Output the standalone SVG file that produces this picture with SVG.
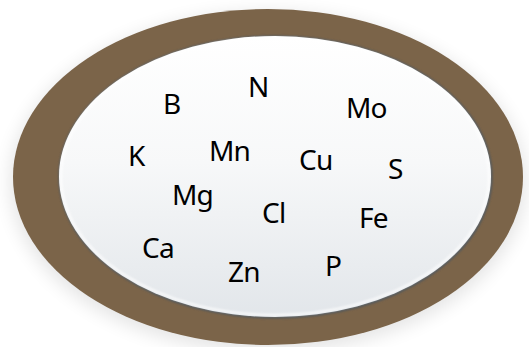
<svg xmlns="http://www.w3.org/2000/svg" width="529" height="347" viewBox="0 0 529 347">
  <defs>
    <filter id="shadow" x="-20%" y="-20%" width="140%" height="140%">
      <feGaussianBlur stdDeviation="9"/>
    </filter>
    <filter id="rim" x="-10%" y="-10%" width="120%" height="120%">
      <feGaussianBlur stdDeviation="1.2"/>
    </filter>
    <linearGradient id="innerFill" x1="0" y1="0" x2="0" y2="1">
      <stop offset="0" stop-color="#ffffff"/>
      <stop offset="0.45" stop-color="#f7f8f9"/>
      <stop offset="1" stop-color="#e2e6ea"/>
    </linearGradient>
  </defs>
  <style>
    .el { font-family: "Noto Sans", "Open Sans", sans-serif; font-size: 28px; letter-spacing: -0.8px; fill: #000000; }
  </style>
  <rect width="529" height="347" fill="#ffffff"/>
  <g id="plate">
    <ellipse cx="268" cy="182" rx="258" ry="170" fill="#000000" opacity="0.1" filter="url(#shadow)"/>
    <ellipse cx="268" cy="177" rx="255" ry="168" fill="#7b6449"/>
    <ellipse cx="275.5" cy="177" rx="217" ry="141.5" fill="#50565c" filter="url(#rim)"/>
    <ellipse cx="275" cy="176.5" rx="216" ry="140.5" fill="url(#innerFill)"/>
    <ellipse cx="275" cy="176.5" rx="214" ry="138.5" fill="none" stroke="#ffffff" stroke-width="2" opacity="0.8" filter="url(#rim)"/>
  </g>
  <g id="elements">
    <g id="n-B"><text class="el" x="163" y="114">B</text></g>
    <g id="n-N"><text class="el" x="248" y="97">N</text></g>
    <g id="n-Mo"><text class="el" x="346" y="118">Mo</text></g>
    <g id="n-K"><text class="el" x="128" y="166">K</text></g>
    <g id="n-Mn"><text class="el" x="209" y="161">Mn</text></g>
    <g id="n-Cu"><text class="el" x="299" y="170">Cu</text></g>
    <g id="n-S"><text class="el" x="388" y="179">S</text></g>
    <g id="n-Mg"><text class="el" x="172" y="205">Mg</text></g>
    <g id="n-Cl"><text class="el" x="262" y="223">Cl</text></g>
    <g id="n-Fe"><text class="el" x="359" y="228">Fe</text></g>
    <g id="n-Ca"><text class="el" x="142" y="258">Ca</text></g>
    <g id="n-Zn"><text class="el" x="228" y="282">Zn</text></g>
    <g id="n-P"><text class="el" x="325" y="276">P</text></g>
  </g>
  <g id="connectors"></g>
</svg>
